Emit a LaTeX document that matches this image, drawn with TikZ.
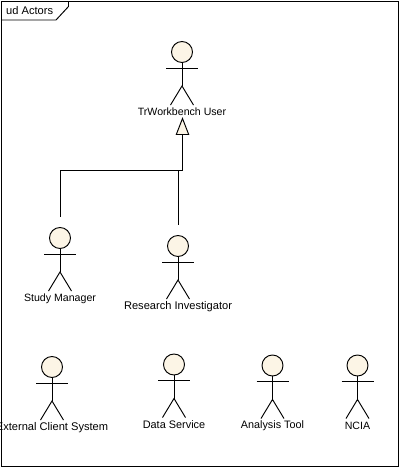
\documentclass[tikz,border=0pt]{standalone}
\usepackage{fontspec}
\setmainfont{Liberation Sans}
\usetikzlibrary{calc}
\definecolor{actorfill}{RGB}{252,245,230}
\tikzset{
  line/.style={draw=black,line width=0.95pt},
  head/.style={circle,line,fill=actorfill,minimum size=21pt,inner sep=0pt,outer sep=0pt},
  actorlabel/.style={inner sep=0pt,font=\fontsize{#1}{12}\selectfont,text=black},
  tabtext/.style={inner sep=0pt,anchor=west,font=\fontsize{11.1}{12}\selectfont,text=black},
  gentip/.style={line,fill=actorfill,line join=miter}
}
\newcommand{\umlactor}[6]{% name, x, y of head, label, label dy, font size
  \node[head] (#1) at (#2,#3) {};
  \coordinate (#1-armL) at (#2-16,#3+16);
  \coordinate (#1-armR) at (#2+16,#3+16);
  \coordinate (#1-hip) at (#2,#3+34);
  \coordinate (#1-footL) at (#2-11.5,#3+53);
  \coordinate (#1-footR) at (#2+11.5,#3+53);
  \draw[line] (#1.south) -- (#1-hip);
  \draw[line] (#1-armL) -- (#1-armR);
  \draw[line] (#1-footL) -- (#1-hip) -- (#1-footR);
  \node[actorlabel=#6] (#1-label) at (#2,#3+#5) {#4};
}
\begin{document}
\begin{tikzpicture}[x=1pt,y=-1pt]
\useasboundingbox (0,0) rectangle (400,467);
\fill[white] (0,0) rectangle (400,467);
\draw[line] (1.5,1.2) rectangle (398.6,466.4);
\coordinate (tabA) at (1.5,20);
\coordinate (tabB) at (56,20);
\coordinate (tabC) at (68.5,6.5);
\coordinate (tabD) at (68.5,1.2);
\draw[line] (tabA) -- (tabB) -- (tabC) -- (tabD);
\node[tabtext] (frametitle) at (6,10.6) {ud Actors};

\umlactor{user}{182}{52}{TrWorkbench User}{60}{10.6}
\umlactor{study}{60}{238}{Study Manager}{60.3}{10.6}
\umlactor{research}{178}{246}{Research Investigator}{60.3}{11.1}
\umlactor{external}{52}{367}{External Client System}{60.3}{11.1}
\umlactor{data}{174}{364.5}{Data Service}{60.3}{10.9}
\umlactor{analysis}{272.5}{365.5}{Analysis Tool}{60.3}{10.8}
\umlactor{ncia}{357.5}{365.5}{NCIA}{60.3}{10.6}

\coordinate (tipApex) at (182.5,118.5);
\coordinate (tipL) at (176.3,134.5);
\coordinate (tipR) at (188.7,134.5);
\coordinate (tipB) at (182.5,134.5);
\coordinate (junction) at (182.5,170);
\coordinate (studyEnd) at (60,216.5);
\coordinate (researchEnd) at (178.3,224.5);
\draw[line] (studyEnd) -- (60,170) -- (junction) -- (tipB);
\draw[line] (researchEnd) -- (178.3,170);
\draw[gentip] (tipApex) -- (tipR) -- (tipL) -- cycle;
\end{tikzpicture}
\end{document}
